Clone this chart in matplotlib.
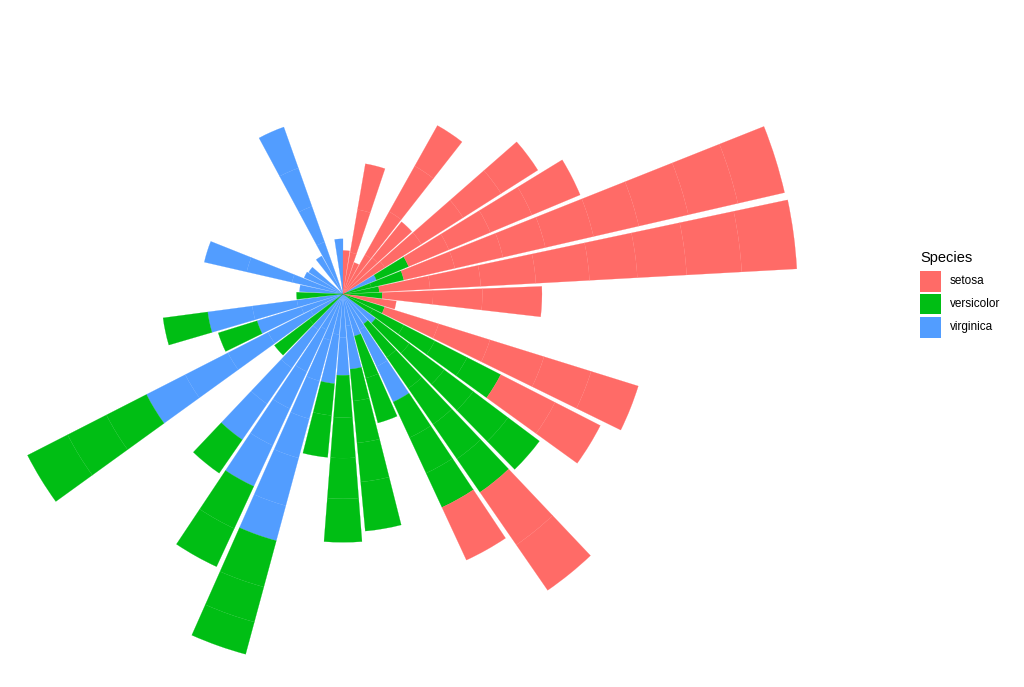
import numpy as np
import matplotlib.pyplot as plt
from matplotlib.patches import Rectangle

# iris: sepal length (angle) and sepal width (stacked radius), per species
species = ["setosa", "versicolor", "virginica"]
colors = ["#FF6B67", "#00BE14", "#529DFF"]

setosa_length = [5.1, 4.9, 4.7, 4.6, 5.0, 5.4, 4.6, 5.0, 4.4, 4.9,
                 5.4, 4.8, 4.8, 4.3, 5.8, 5.7, 5.4, 5.1, 5.7, 5.1,
                 5.4, 5.1, 4.6, 5.1, 4.8, 5.0, 5.0, 5.2, 5.2, 4.7,
                 4.8, 5.4, 5.2, 5.5, 4.9, 5.0, 5.5, 4.9, 4.4, 5.1,
                 5.0, 4.5, 4.4, 5.0, 5.1, 4.8, 5.1, 4.6, 5.3, 5.0]
setosa_width = [3.5, 3.0, 3.2, 3.1, 3.6, 3.9, 3.4, 3.4, 2.9, 3.1,
                3.7, 3.4, 3.0, 3.0, 4.0, 4.4, 3.9, 3.5, 3.8, 3.8,
                3.4, 3.7, 3.6, 3.3, 3.4, 3.0, 3.4, 3.5, 3.4, 3.2,
                3.1, 3.4, 4.1, 4.2, 3.1, 3.2, 3.5, 3.6, 3.0, 3.4,
                3.5, 2.3, 3.2, 3.5, 3.8, 3.0, 3.8, 3.2, 3.7, 3.3]

versicolor_length = [7.0, 6.4, 6.9, 5.5, 6.5, 5.7, 6.3, 4.9, 6.6, 5.2,
                     5.0, 5.9, 6.0, 6.1, 5.6, 6.7, 5.6, 5.8, 6.2, 5.6,
                     5.9, 6.1, 6.3, 6.1, 6.4, 6.6, 6.8, 6.7, 6.0, 5.7,
                     5.5, 5.5, 5.8, 6.0, 5.4, 6.0, 6.7, 6.3, 5.6, 5.5,
                     5.5, 6.1, 5.8, 5.0, 5.6, 5.7, 5.7, 6.2, 5.1, 5.7]
versicolor_width = [3.2, 3.2, 3.1, 2.3, 2.8, 2.8, 3.3, 2.4, 2.9, 2.7,
                    2.0, 3.0, 2.2, 2.9, 2.9, 3.1, 3.0, 2.7, 2.2, 2.5,
                    3.2, 2.8, 2.5, 2.8, 2.9, 3.0, 2.8, 3.0, 2.9, 2.6,
                    2.4, 2.4, 2.7, 2.7, 3.0, 3.4, 3.1, 2.3, 3.0, 2.5,
                    2.6, 3.0, 2.6, 2.3, 2.7, 3.0, 2.9, 2.9, 2.5, 2.8]

virginica_length = [6.3, 5.8, 7.1, 6.3, 6.5, 7.6, 4.9, 7.3, 6.7, 7.2,
                    6.5, 6.4, 6.8, 5.7, 5.8, 6.4, 6.5, 7.7, 7.7, 6.0,
                    6.9, 5.6, 7.7, 6.3, 6.7, 7.2, 6.2, 6.1, 6.4, 7.2,
                    7.4, 7.9, 6.4, 6.3, 6.1, 7.7, 6.3, 6.4, 6.0, 6.9,
                    6.7, 6.9, 5.8, 6.8, 6.7, 6.7, 6.3, 6.5, 6.2, 5.9]
virginica_width = [3.3, 2.7, 3.0, 2.9, 3.0, 3.0, 2.5, 2.9, 2.5, 3.6,
                   3.2, 2.7, 3.0, 2.5, 2.8, 3.2, 3.0, 3.8, 2.6, 2.2,
                   3.2, 2.8, 2.8, 2.7, 3.3, 3.2, 2.8, 3.0, 2.8, 3.0,
                   2.8, 3.8, 2.8, 2.8, 2.6, 3.0, 3.4, 3.1, 3.0, 3.1,
                   3.1, 3.1, 2.7, 3.2, 3.3, 3.0, 2.5, 3.0, 3.4, 3.0]

lengths = [setosa_length, versicolor_length, virginica_length]
widths = [setosa_width, versicolor_width, virginica_width]

W, H, DPI = 1024, 687, 96
fig = plt.figure(figsize=(W / DPI, H / DPI), dpi=DPI)

# polar panel: centre and outer radius in pixels
cx, cy, R = 343, 294, 454.5
ax = fig.add_axes([(cx - R) / W, (H - cy - R) / H, 2 * R / W, 2 * R / H],
                  projection="polar")
ax.set_theta_zero_location("N")
ax.set_theta_direction(-1)

res = 0.1
bw = 0.9 * res
all_len = np.concatenate([np.array(l) for l in lengths])
xmin = all_len.min() - bw / 2
xmax = all_len.max() + bw / 2


def to_theta(x):
    return (np.asarray(x) - xmin) / (xmax - xmin) * 2 * np.pi


bar_width = bw / (xmax - xmin) * 2 * np.pi

# stack: virginica innermost, setosa outermost, rows in data order
stack = {}
for i in [2, 1, 0]:
    bottoms = []
    for x, y in zip(lengths[i], widths[i]):
        key = round(x, 1)
        base = stack.get(key, 0.0)
        bottoms.append(base)
        stack[key] = base + y
    ax.bar(to_theta(lengths[i]), widths[i], width=bar_width, bottom=bottoms,
           color=colors[i], edgecolor=colors[i], linewidth=0.15, clip_on=False)

ax.set_rlim(0, max(stack.values()))
ax.set_axis_off()

# legend
font = "Liberation Sans"
fig.text(920 / W, 1 - 262 / H, "Species", fontsize=11, family=font,
         va="baseline", ha="left")
for i, sp in enumerate(species):
    top = 270.5 + i * 23
    fig.add_artist(Rectangle((920 / W, 1 - (top + 21) / H), 21 / W, 21 / H,
                             transform=fig.transFigure, color=colors[i], lw=0))
    fig.text(950 / W, 1 - (top + 10.5) / H, sp, fontsize=8.8, family=font,
             va="center", ha="left")

fig.savefig("out.png", dpi=DPI)
